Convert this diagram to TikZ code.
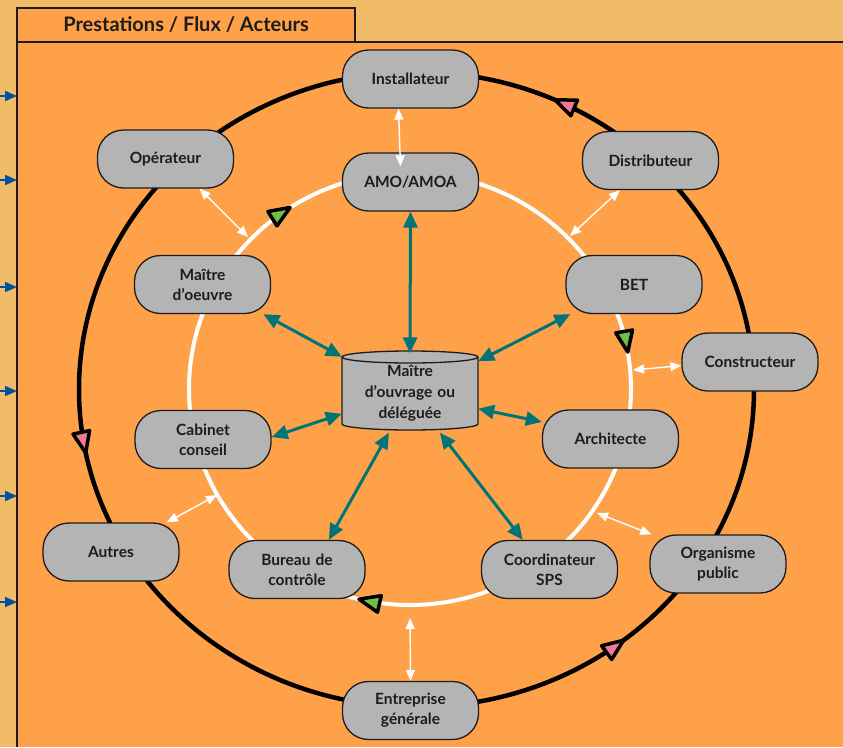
\documentclass[tikz,border=0pt]{standalone}
\usepackage{fontspec}
\setmainfont{Lato}
\usetikzlibrary{arrows.meta,decorations.markings}
\definecolor{PageTan}{RGB}{241,188,104}
\definecolor{PanelOrange}{RGB}{255,161,73}
\definecolor{ActorGray}{RGB}{180,180,180}
\definecolor{InkDark}{RGB}{28,28,28}
\definecolor{FlowTeal}{RGB}{0,116,118}
\definecolor{MarkPink}{RGB}{240,122,146}
\definecolor{MarkGreen}{RGB}{114,190,70}
\definecolor{SideBlue}{RGB}{0,82,158}
\tikzset{
  pinktri/.style={fill=MarkPink,draw=black,line width=3.5pt,line join=round},
  greentri/.style={fill=MarkGreen,draw=black,line width=3.5pt,line join=round},
  actor/.style={draw=InkDark,fill=ActorGray,line width=1.3pt,rounded corners=26pt,
    minimum width=136pt,minimum height=58pt,inner sep=0pt,text width=132pt,align=center,
    text=InkDark,font=\fontsize{15.5}{20}\selectfont\bfseries},
  hub/.style={minimum width=136pt,minimum height=79pt,inner sep=0pt,text width=132pt,
    align=center,text=InkDark,font=\fontsize{15.5}{21}\selectfont\bfseries},
  drum/.style={draw=InkDark,fill=ActorGray,line width=1.3pt},
  tabbox/.style={draw=InkDark,fill=PanelOrange,line width=1.3pt,minimum width=338pt,
    minimum height=34pt,inner sep=0pt,text=InkDark,font=\fontsize{20}{24}\selectfont\bfseries},
  flow/.style={arrows={Triangle[length=16pt,width=14pt]-Triangle[length=16pt,width=14pt]},
    line width=3pt,draw=FlowTeal},
  link/.style={arrows={Triangle[length=11pt,width=9pt]-Triangle[length=11pt,width=9pt]},
    line width=1.4pt,draw=white},
  side/.style={-{Triangle[length=12pt,width=10pt]},line width=2pt,draw=SideBlue},
  outerring/.style={draw=black,line width=4.5pt,postaction={decorate},
    decoration={markings,
      mark=at position 0.1425 with {\draw[pinktri] (0pt,0pt) -- (21pt,8.5pt) -- (21pt,-8.5pt) -- cycle;},
      mark=at position 0.469 with {\draw[pinktri] (0pt,0pt) -- (21pt,8.5pt) -- (21pt,-8.5pt) -- cycle;},
      mark=at position 0.819 with {\draw[pinktri] (0pt,0pt) -- (21pt,8.5pt) -- (21pt,-8.5pt) -- cycle;}}},
  innerring/.style={draw=white,line width=4pt,postaction={decorate},
    decoration={markings,
      mark=at position 0.2875 with {\draw[greentri] (0pt,0pt) -- (-21pt,8.5pt) -- (-21pt,-8.5pt) -- cycle;},
      mark=at position 0.658 with {\draw[greentri] (0pt,0pt) -- (-21pt,8.5pt) -- (-21pt,-8.5pt) -- cycle;},
      mark=at position 0.973 with {\draw[greentri] (0pt,0pt) -- (-21pt,8.5pt) -- (-21pt,-8.5pt) -- cycle;}}}
}

\begin{document}
\begin{tikzpicture}[x=1pt,y=-1pt]
  \useasboundingbox (0,0) rectangle (843,747);
  \fill[PageTan] (0,0) rectangle (843,747);
  \fill[PanelOrange] (17,42) rectangle (843,747);
  \draw[InkDark,line width=1.3pt] (843,42) -- (17,42) -- (17,747);
  \node[tabbox] (title) at (186,25) {Prestations / Flux / Acteurs};

  \foreach \y in {96,180,287,391,496,602}{
    \coordinate (in\y) at (0,\y);
    \coordinate (out\y) at (17,\y);
    \draw[side] (in\y) -- (out\y);}

  % rings
  \draw[outerring] (416.5,389.5) ellipse [x radius=337.5,y radius=317.5];
  \draw[innerring] (410,389) ellipse [x radius=221,y radius=216];

  % central drum
  \begin{scope}[shift={(410,390.5)}]
    \draw[drum] (-68,-33.5) -- (-68,33.5)
      arc[start angle=180,end angle=360,x radius=68pt,y radius=6pt] -- (68,-33.5)
      arc[start angle=0,end angle=180,x radius=68pt,y radius=6pt] -- cycle;
    \draw[drum,fill=none] (-68,-33.5) arc[start angle=180,end angle=360,x radius=68pt,y radius=6pt];
    \node[hub] (hub) at (0,2.5) {Maître\\d’ouvrage ou\\déléguée};
  \end{scope}

  \node[actor] (inst) at (410.5,79) {Installateur};
  \node[actor] (amo) at (410.5,182) {AMO/AMOA};
  \node[actor] (op) at (165.5,159) {Opérateur};
  \node[actor] (dist) at (650.5,160.5) {Distributeur};
  \node[actor] (mo) at (202.5,284.5) {Maître\\d’oeuvre};
  \node[actor] (bet) at (634,284.5) {BET};
  \node[actor] (cons) at (750,362) {Constructeur};
  \node[actor] (cc) at (203,439.5) {Cabinet\\conseil};
  \node[actor] (arch) at (610.5,439) {Architecte};
  \node[actor] (autres) at (111,552) {Autres};
  \node[actor] (bc) at (297,569.5) {Bureau de\\contrôle};
  \node[actor] (sps) at (549.5,569.5) {Coordinateur\\SPS};
  \node[actor] (org) at (718,564) {Organisme\\public};
  \node[actor] (ent) at (410.5,710.5) {Entreprise\\générale};

  % ends on the inner ring
  \coordinate (rOp) at (248,237);
  \coordinate (rDist) at (570,236);
  \coordinate (rCons) at (633,370);
  \coordinate (rOrg) at (597,513);
  \coordinate (rEnt) at (410,618);
  \coordinate (rAut) at (217,495);

  \draw[link] (inst.248) -- ([xshift=-10pt,yshift=-14pt]amo.north);
  \draw[link] (op.-41.7) -- (rOp);
  \draw[link] (dist.224) -- (rDist);
  \draw[link] (cons.183) -- (rCons);
  \draw[link] (org.156) -- (rOrg);
  \draw[link] (ent.north) -- (rEnt);
  \draw[link] (autres.28.6) -- (rAut);

  \draw[flow] (hub.north) -- (amo.south);
  \draw[flow] (hub.152) -- (mo.-26);
  \draw[flow] (hub.25.6) -- (bet.205.8);
  \draw[flow] (hub.197.8) -- (cc.2);
  \draw[flow] (hub.-13) -- (arch.166);
  \draw[flow] (hub.242) -- (bc.43.6);
  \draw[flow] (hub.307.6) -- (sps.132.5);
\end{tikzpicture}
\end{document}
